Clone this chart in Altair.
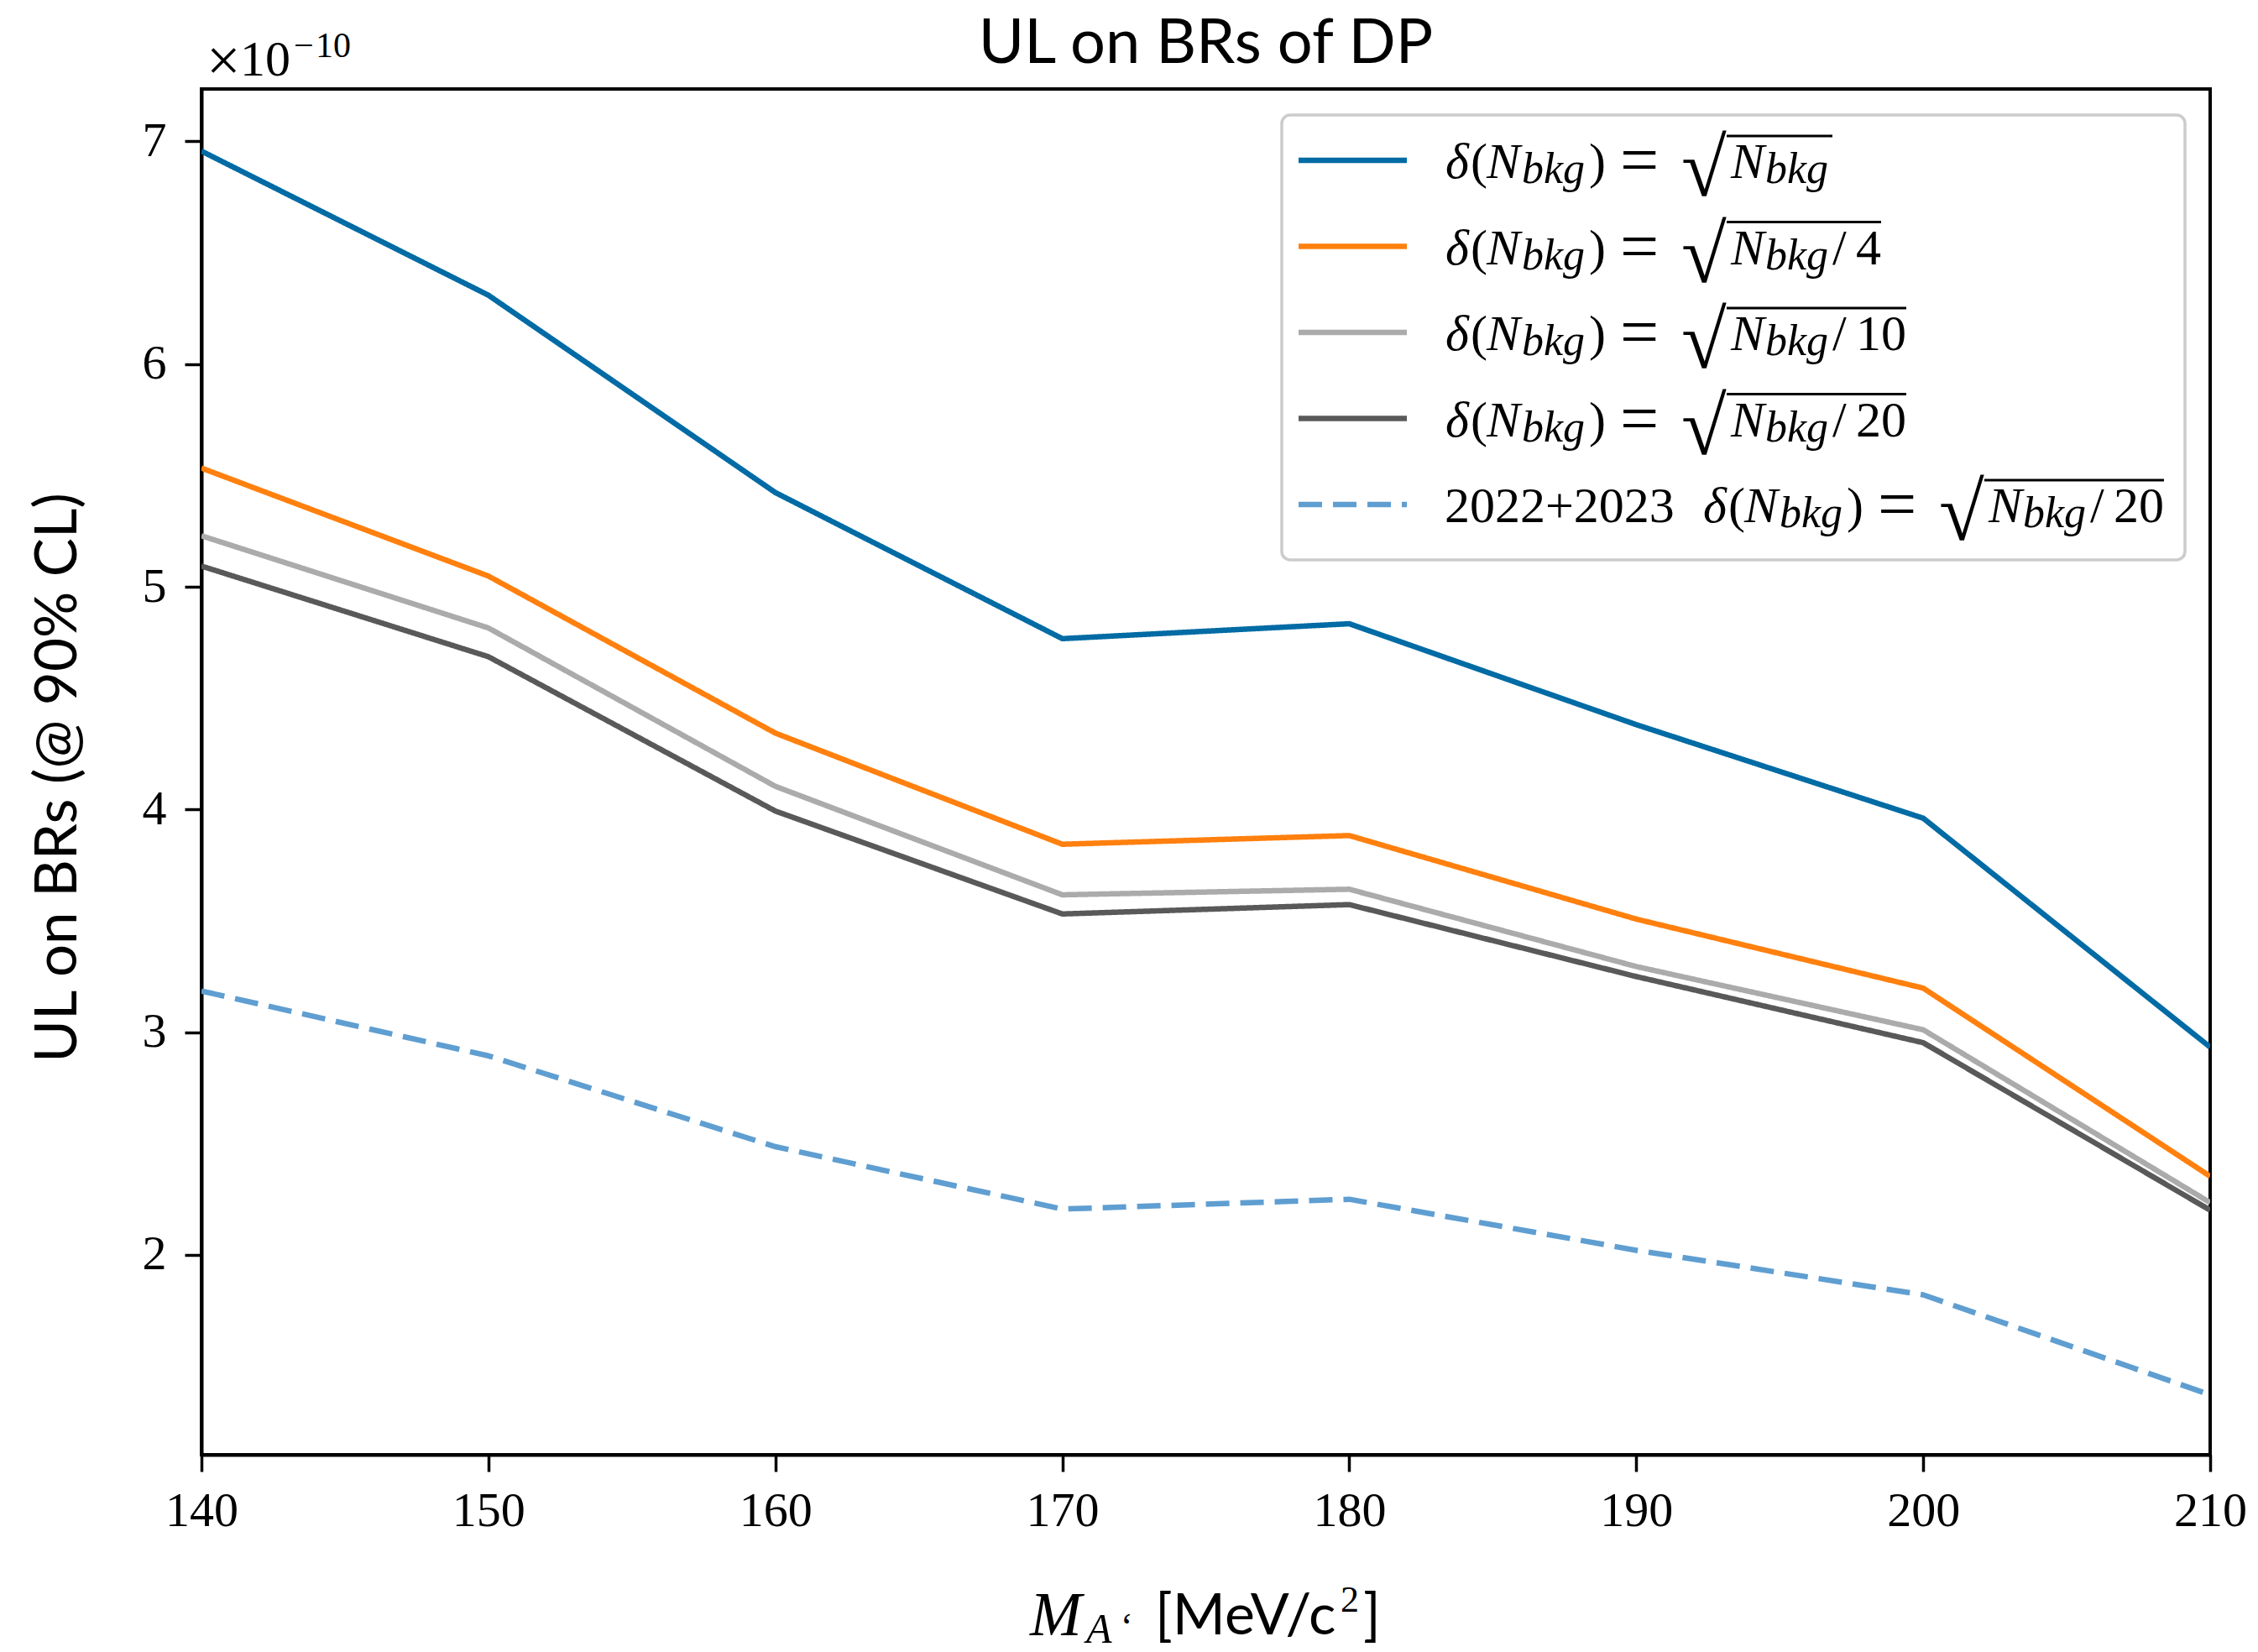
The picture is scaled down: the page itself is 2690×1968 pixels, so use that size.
import altair as alt
import pandas as pd

# Dark-photon mass points [MeV/c^2]
mass = [140, 150, 160, 170, 180, 190, 200, 210]

# Upper limits on the branching ratio at 90% CL, in units of 1e-10
ul_sqrt_n = [6.956, 6.309, 5.423, 4.767, 4.834, 4.381, 3.961, 2.933]
ul_sqrt_n4 = [5.533, 5.048, 4.343, 3.844, 3.883, 3.508, 3.198, 2.353]
ul_sqrt_n10 = [5.229, 4.815, 4.104, 3.617, 3.642, 3.295, 3.011, 2.235]
ul_sqrt_n20 = [5.093, 4.686, 3.993, 3.531, 3.573, 3.250, 2.953, 2.201]
ul_2223_n20 = [3.185, 2.894, 2.486, 2.206, 2.250, 2.021, 1.821, 1.372]

series_keys = ["sqrtN", "sqrtN/4", "sqrtN/10", "sqrtN/20", "2022+2023 sqrtN/20"]
series_values = [ul_sqrt_n, ul_sqrt_n4, ul_sqrt_n10, ul_sqrt_n20, ul_2223_n20]
series_colors = ["#006BA4", "#FF800E", "#ABABAB", "#595959", "#5F9ED1"]
series_dash = [[1, 0], [1, 0], [1, 0], [1, 0], [28, 13]]
legend_prefix = ["", "", "", "", "2022+2023"]
legend_denom = ["", "4", "10", "20", "20"]

x_ticks = [140, 150, 160, 170, 180, 190, 200, 210]
y_ticks = [2, 3, 4, 5, 6, 7]
y_domain = [1.103, 7.235]

W, H = 2393, 1627
SERIF = "Liberation Serif"
SANS = "Lato"
LINE_W = 6.5

rows = []
for key, vals in zip(series_keys, series_values):
    for m, v in zip(mass, vals):
        rows.append({"series": key, "mass": m, "ul": v})
df = pd.DataFrame(rows)

lines = alt.Chart(df).mark_line(strokeWidth=LINE_W, strokeJoin="round", clip=True).encode(
    x=alt.X("mass:Q", scale=alt.Scale(domain=[140, 210], nice=False, zero=False),
            axis=alt.Axis(values=x_ticks, format="d", title=None, labelPadding=18,
                          labelFlush=False, labelOverlap=False)),
    y=alt.Y("ul:Q", scale=alt.Scale(domain=y_domain, nice=False, zero=False),
            axis=alt.Axis(values=y_ticks, format="d", labelPadding=22, labelFlush=False,
                          title="UL on BRs (@ 90% CL)", titleFont=SANS, titleFontSize=69,
                          titleFontWeight="normal", titleAngle=270, titleAlign="center",
                          titleBaseline="alphabetic", titleX=-150, titleY=820)),
    color=alt.Color("series:N", scale=alt.Scale(domain=series_keys, range=series_colors), legend=None),
    strokeDash=alt.StrokeDash("series:N", scale=alt.Scale(domain=series_keys, range=series_dash), legend=None),
    detail="series:N",
)

# ---- legend -------------------------------------------------------------
LX0, LX1, LY0, LY1 = 1287, 2363, 31, 561
ROW0, ROW_GAP = 85, 102.5
HX0, HX1 = 1307, 1436
TX0 = 1481
MATH_SHIFT = 307

legend_box = alt.Chart(pd.DataFrame({"a": [0]})).mark_rect(
    fill="white", fillOpacity=0.8, stroke="#cccccc", strokeWidth=3.5, cornerRadius=10
).encode(x=alt.value(LX0), x2=alt.value(LX1), y=alt.value(LY0), y2=alt.value(LY1))

handles, overlines, frags = [], [], []
for i, (col, dash, pre, den) in enumerate(zip(series_colors, series_dash, legend_prefix, legend_denom)):
    y0 = ROW0 + ROW_GAP * i
    handles.append({"x1": HX0, "x2": HX1, "y": y0, "color": col, "dashed": dash != [1, 0]})
    x0 = TX0
    if pre:
        frags.append({"px": x0, "py": y0 + 21, "txt": pre, "kind": "roman"})
        x0 += MATH_SHIFT
    frags += [
        {"px": x0 + 1, "py": y0 + 21, "txt": "δ", "kind": "italic"},
        {"px": x0 + 31, "py": y0 + 21, "txt": "(", "kind": "roman"},
        {"px": x0 + 50, "py": y0 + 21, "txt": "N", "kind": "italic"},
        {"px": x0 + 92, "py": y0 + 27, "txt": "bkg", "kind": "sub"},
        {"px": x0 + 172, "py": y0 + 21, "txt": ")", "kind": "roman"},
        {"px": x0 + 209, "py": y0 + 27, "txt": "=", "kind": "eq"},
        {"px": x0 + 282, "py": y0 + 42, "txt": "√", "kind": "radical"},
        {"px": x0 + 341, "py": y0 + 21, "txt": "N", "kind": "italic"},
        {"px": x0 + 382, "py": y0 + 27, "txt": "bkg", "kind": "sub"},
    ]
    end = x0 + 462
    if den:
        frags.append({"px": x0 + 462, "py": y0 + 21, "txt": "/", "kind": "roman"})
        frags.append({"px": x0 + 490, "py": y0 + 21, "txt": den, "kind": "roman"})
        end = x0 + 490 + 30 * len(den)
    overlines.append({"x1": x0 + 336, "x2": end, "y": y0 - 29})

# axis label, scale factor and title pieces
frags += [
    {"px": 987, "py": 1842, "txt": "M", "kind": "xl_it"},
    {"px": 1054, "py": 1851, "txt": "A", "kind": "xl_sub"},
    {"px": 1095, "py": 1846, "txt": "‘", "kind": "xl_sub_r"},
    {"px": 1136, "py": 1841, "txt": "[MeV/c", "kind": "xl_sans"},
    {"px": 1357, "py": 1814, "txt": "2", "kind": "xl_sub_r"},
    {"px": 1384, "py": 1841, "txt": "]", "kind": "xl_sans"},
    {"px": 6, "py": -10, "txt": "×", "kind": "times"},
    {"px": 46, "py": -16, "txt": "10", "kind": "roman"},
    {"px": 110, "py": -38, "txt": "−", "kind": "sup"},
    {"px": 136, "py": -38, "txt": "10", "kind": "sup"},
    {"px": W / 2, "py": -31, "txt": "UL on BRs of DP", "kind": "title"},
]

hdf = pd.DataFrame(handles)
odf = pd.DataFrame(overlines)
fdf = pd.DataFrame(frags)

px = alt.X("x1:Q", scale=None, axis=None)
py = alt.Y("y:Q", scale=None, axis=None)

solid_handles = alt.Chart(hdf).transform_filter("!datum.dashed").mark_rule(strokeWidth=LINE_W).encode(
    x=px, x2="x2:Q", y=py, color=alt.Color("color:N", scale=None))
dashed_handles = alt.Chart(hdf).transform_filter("datum.dashed").mark_rule(
    strokeWidth=LINE_W, strokeDash=[28, 13]).encode(
    x=px, x2="x2:Q", y=py, color=alt.Color("color:N", scale=None))
bars = alt.Chart(odf).mark_rule(strokeWidth=3, color="black").encode(x=px, x2="x2:Q", y=py)

styles = {
    "roman": dict(font=SERIF, fontSize=60, fontStyle="normal"),
    "times": dict(font=SERIF, fontSize=72, fontStyle="normal"),
    "eq": dict(font=SERIF, fontSize=82, fontStyle="normal"),
    "italic": dict(font=SERIF, fontSize=60, fontStyle="italic"),
    "sub": dict(font=SERIF, fontSize=52, fontStyle="italic"),
    "sup": dict(font=SERIF, fontSize=42, fontStyle="normal"),
    "radical": dict(font=SERIF, fontSize=98, fontStyle="normal"),
    "xl_it": dict(font=SERIF, fontSize=74, fontStyle="italic"),
    "xl_sub": dict(font=SERIF, fontSize=50, fontStyle="italic"),
    "xl_sub_r": dict(font=SERIF, fontSize=44, fontStyle="normal"),
    "xl_sans": dict(font=SANS, fontSize=68, fontStyle="normal"),
    "title": dict(font=SANS, fontSize=74, fontStyle="normal", align="center"),
}
text_layers = []
for kind, st in styles.items():
    st = dict(st)
    align = st.pop("align", "left")
    text_layers.append(
        alt.Chart(fdf).transform_filter(alt.datum.kind == kind).mark_text(
            align=align, baseline="alphabetic", color="black", **st
        ).encode(x=alt.X("px:Q", scale=None, axis=None), y=alt.Y("py:Q", scale=None, axis=None), text="txt:N")
    )

chart = alt.layer(lines, legend_box, solid_handles, dashed_handles, bars, *text_layers).properties(
    width=W, height=H,
    autosize=alt.AutoSizeParams(type="none"),
    padding={"left": 240, "top": 106, "right": 57, "bottom": 235},
    background="white",
).configure_view(stroke="black", strokeWidth=4).configure_axis(
    grid=False, domainColor="black", domainWidth=4, tickColor="black", tickWidth=3.5, tickSize=20,
    labelFont=SERIF, labelFontSize=58, labelColor="black", titleColor="black",
)

chart.save("out.html", embed_options={"renderer": "svg", "actions": False})
